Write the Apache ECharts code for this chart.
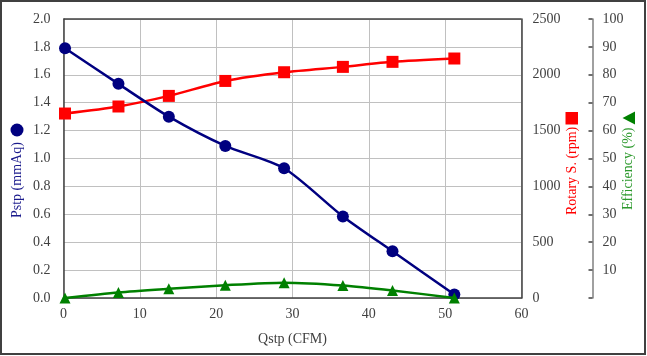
<!DOCTYPE html>
<html>
<head>
<meta charset="utf-8">
<script src="https://cdn.jsdelivr.net/npm/echarts@6/dist/echarts.min.js"></script>
<style>html,body{margin:0;padding:0;background:#fff}#c{width:647px;height:356px}</style>
</head>
<body>
<div id="c"></div>
<script>
const qstp = [0.2, 7.2, 13.8, 21.2, 28.9, 36.6, 43.1, 51.2];
const pstp = [1.79, 1.535, 1.30, 1.09, 0.93, 0.585, 0.335, 0.025];
const rpm = [1653, 1716, 1811, 1945, 2023, 2071, 2116, 2146];
const eff = [0, 2.0, 3.3, 4.6, 5.5, 4.5, 2.7, 0];

const font = 'Liberation Serif';
const chart = echarts.init(document.getElementById('c'), null, {renderer: 'canvas'});
const pair = (ys) => qstp.map((x, i) => [x, ys[i]]);
const axisLbl = {fontFamily: font, fontSize: 14, color: '#404040'};

chart.setOption({
  animation: false,
  backgroundColor: '#fff',
  grid: {left: 63.5, right: 125.5, top: 19, bottom: 58, show: false},
  xAxis: {
    type: 'value', min: 0, max: 60, interval: 10,
    name: 'Qstp (CFM)', nameLocation: 'middle', nameGap: 34,
    nameTextStyle: {fontFamily: font, fontSize: 14, color: '#404040'},
    axisLine: {show: true, lineStyle: {color: '#404040', width: 1.5}},
    axisTick: {show: false},
    axisLabel: Object.assign({margin: 9}, axisLbl),
    splitLine: {show: true, lineStyle: {color: '#c0c0c0', width: 1}}
  },
  yAxis: [
    {
      type: 'value', min: 0, max: 2, interval: 0.2, position: 'left',
      axisLine: {show: true, lineStyle: {color: '#404040', width: 1.5}},
      axisTick: {show: false},
      axisLabel: Object.assign({margin: 13, formatter: v => v.toFixed(1)}, axisLbl),
      splitLine: {show: true, lineStyle: {color: '#c0c0c0', width: 1}}
    },
    {
      type: 'value', min: 0, max: 2500, interval: 500, position: 'right',
      axisLine: {show: true, lineStyle: {color: '#404040', width: 1.5}},
      axisTick: {show: false},
      axisLabel: Object.assign({margin: 11, formatter: v => String(v)}, axisLbl),
      splitLine: {show: false}
    },
    {
      type: 'value', min: 0, max: 100, interval: 10, position: 'right', offset: 71,
      axisLine: {show: true, lineStyle: {color: '#808080', width: 1.5}},
      axisTick: {show: true, inside: true, length: 4, lineStyle: {color: '#404040', width: 1.5}},
      axisLabel: Object.assign({margin: 10, formatter: v => v === 0 ? '' : String(v)}, axisLbl),
      splitLine: {show: false}
    }
  ],
  series: [
    {
      type: 'line', yAxisIndex: 0, data: pair(pstp), smooth: 0.25,
      symbol: 'circle', symbolSize: 12,
      lineStyle: {color: '#000080', width: 2.5},
      itemStyle: {color: '#000080'}, z: 4
    },
    {
      type: 'line', yAxisIndex: 1, data: pair(rpm), smooth: 0.25,
      symbol: 'rect', symbolSize: 12,
      lineStyle: {color: '#ff0000', width: 2.5},
      itemStyle: {color: '#ff0000'}, z: 3
    },
    {
      type: 'line', yAxisIndex: 2, data: pair(eff), smooth: 0.25,
      symbol: 'triangle', symbolSize: 11,
      lineStyle: {color: '#008000', width: 2.5},
      itemStyle: {color: '#008000'}, z: 5
    }
  ],
  graphic: [
    {type: 'rect', shape: {x: 1, y: 1, width: 644, height: 353}, style: {fill: 'none', stroke: '#404040', lineWidth: 2}, silent: true},
    {type: 'line', shape: {x1: 63.5, y1: 19, x2: 521.5, y2: 19}, style: {stroke: '#404040', lineWidth: 1.5}, silent: true, z: 10},
    {type: 'circle', shape: {cx: 17, cy: 130, r: 6.5}, style: {fill: '#000080'}},
    {type: 'text', x: 17, y: 218, rotation: Math.PI / 2,
      style: {text: 'Pstp (mmAq)', fontFamily: font, fontSize: 14, fill: '#1a1a8c', textAlign: 'left', textVerticalAlign: 'middle'}},
    {type: 'rect', shape: {x: 565.5, y: 112, width: 12.5, height: 12.5}, style: {fill: '#ff0000'}},
    {type: 'text', x: 572, y: 215, rotation: Math.PI / 2,
      style: {text: 'Rotary S. (rpm)', fontFamily: font, fontSize: 14, fill: '#ff0000', textAlign: 'left', textVerticalAlign: 'middle'}},
    {type: 'polygon', shape: {points: [[622.5, 118], [635, 111.5], [635, 124.5]]}, style: {fill: '#008000'}},
    {type: 'text', x: 628, y: 210, rotation: Math.PI / 2,
      style: {text: 'Efficiency (%)', fontFamily: font, fontSize: 14, fill: '#2e9a2e', textAlign: 'left', textVerticalAlign: 'middle'}}
  ]
});
</script>
</body>
</html>
